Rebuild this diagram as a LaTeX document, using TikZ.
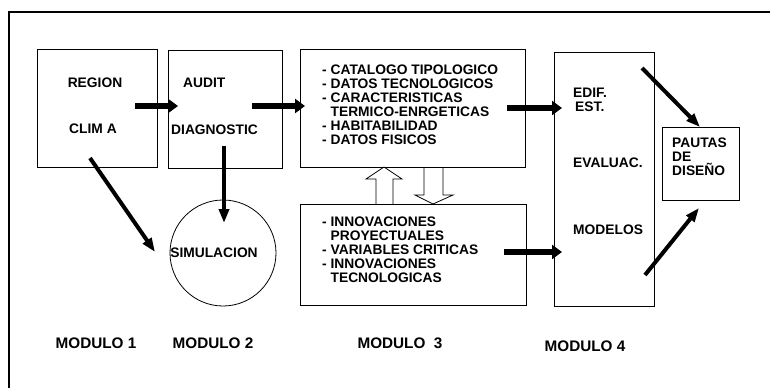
\documentclass[tikz,border=0pt]{standalone}
\usepackage{fontspec}
\setmainfont{Liberation Sans}
\usetikzlibrary{arrows.meta,positioning,calc}

\begin{document}
\begin{tikzpicture}[x=1pt, y=-1pt,
  box/.style={draw, line width=0.8pt, inner sep=0pt, anchor=north west},
  lbl/.style={font=\fontsize{13.8}{14}\selectfont\bfseries, inner sep=0pt, anchor=west, align=left},
  modlbl/.style={font=\fontsize{15.3}{18}\selectfont\bfseries, inner sep=0pt},
  fat/.style={line width=6pt, -{Triangle[length=10pt,width=14pt]}},
  slim/.style={line width=4pt, -{Triangle[length=14pt,width=10pt]}},
  hollow/.style={draw, line width=0.8pt, line join=miter}]
  \useasboundingbox (0,0) rectangle (770,388);
  % scanned frame, only two sides visible
  \draw[line width=2.5pt] (9,388) -- (9,12) -- (770,12);

  % modulo 1 and 2
  \node[box, minimum width=120pt, minimum height=118pt] (region) at (37,49) {};
  \node[lbl, anchor=center] (regtxt) at (95,83) {REGION};
  \node[lbl, anchor=center] (clitxt) at (93,129) {CLIM A};
  \node[box, minimum width=114pt, minimum height=118pt] (audit) at (168,50) {};
  \node[lbl] (audtxt) at (183,83) {AUDIT};
  \node[lbl] (diatxt) at (171,130) {DIAGNOSTIC};
  \node[draw, line width=0.8pt, circle, minimum size=106pt, inner sep=0pt] (sim) at (223,253) {};
  \node[lbl, anchor=center] (simtxt) at (214,253) {SIMULACION};

  % modulo 3
  \node[box, minimum width=225pt, minimum height=118pt] (catalogo) at (300,49) {};
  \node[lbl] (cattxt) at (322,105) {- CATALOGO TIPOLOGICO\\- DATOS TECNOLOGICOS\\- CARACTERISTICAS\\\phantom{- }TERMICO-ENRGETICAS\\- HABITABILIDAD\\- DATOS FISICOS};
  \node[box, minimum width=226pt, minimum height=101pt] (innov) at (300,204) {};
  \node[lbl] (invtxt) at (322,250) {- INNOVACIONES\\\phantom{- }PROYECTUALES\\- VARIABLES CRITICAS\\- INNOVACIONES\\\phantom{- }TECNOLOGICAS};

  % modulo 4
  \node[box, minimum width=100pt, minimum height=254pt] (evaluac) at (554,52) {};
  \node[lbl] (edtxt) at (573,100) {EDIF.\\\hspace{2pt}EST.};
  \node[lbl] (evtxt) at (573,163) {EVALUAC.};
  \node[lbl] (motxt) at (573,230) {MODELOS};
  \node[box, minimum width=77pt, minimum height=73pt] (pautas) at (662,127) {};
  \node[lbl] (pautxt) at (672,157) {PAUTAS\\DE\\DISEÑO};

  % module labels
  \node[modlbl] (m1) at (96,343) {MODULO 1};
  \node[modlbl] (m2) at (213,343) {MODULO 2};
  \node[modlbl] (m3) at (400,343) {MODULO\ \ 3};
  \node[modlbl] (m4) at (585,346) {MODULO 4};

  % arrow ends
  \coordinate (a1) at (135,106);  \coordinate (a2) at (178,106);
  \coordinate (b1) at (252,106);  \coordinate (b2) at (305,106);
  \coordinate (c1) at (507,108);  \coordinate (c2) at (562,108);
  \coordinate (d1) at (504,252);  \coordinate (d2) at (562,252);
  \coordinate (e1) at (224,146);  \coordinate (e2) at (224,223);
  \coordinate (f1) at (90,158);   \coordinate (f2) at (155,252);
  \coordinate (g1) at (642,68);   \coordinate (g2) at (700,127);
  \coordinate (h1) at (645,275);  \coordinate (h2) at (699,208);

  \draw[fat] (a1) -- (a2);
  \draw[fat] (b1) -- (b2);
  \draw[fat] (c1) -- (c2);
  \draw[fat] (d1) -- (d2);
  \draw[slim] (e1) -- (e2);
  \draw[slim] (f1) -- (f2);
  \draw[slim] (g1) -- (g2);
  \draw[slim] (h1) -- (h2);

  % hollow arrows between the two boxes of modulo 3
  \draw[hollow] (376,204) -- (376,179) -- (366,179) -- (384,167) -- (402,179) -- (393,179) -- (393,204);
  \draw[hollow] (424,167) -- (424,195) -- (415,195) -- (433,204) -- (453,195) -- (443,195) -- (443,167);
\end{tikzpicture}
\end{document}
